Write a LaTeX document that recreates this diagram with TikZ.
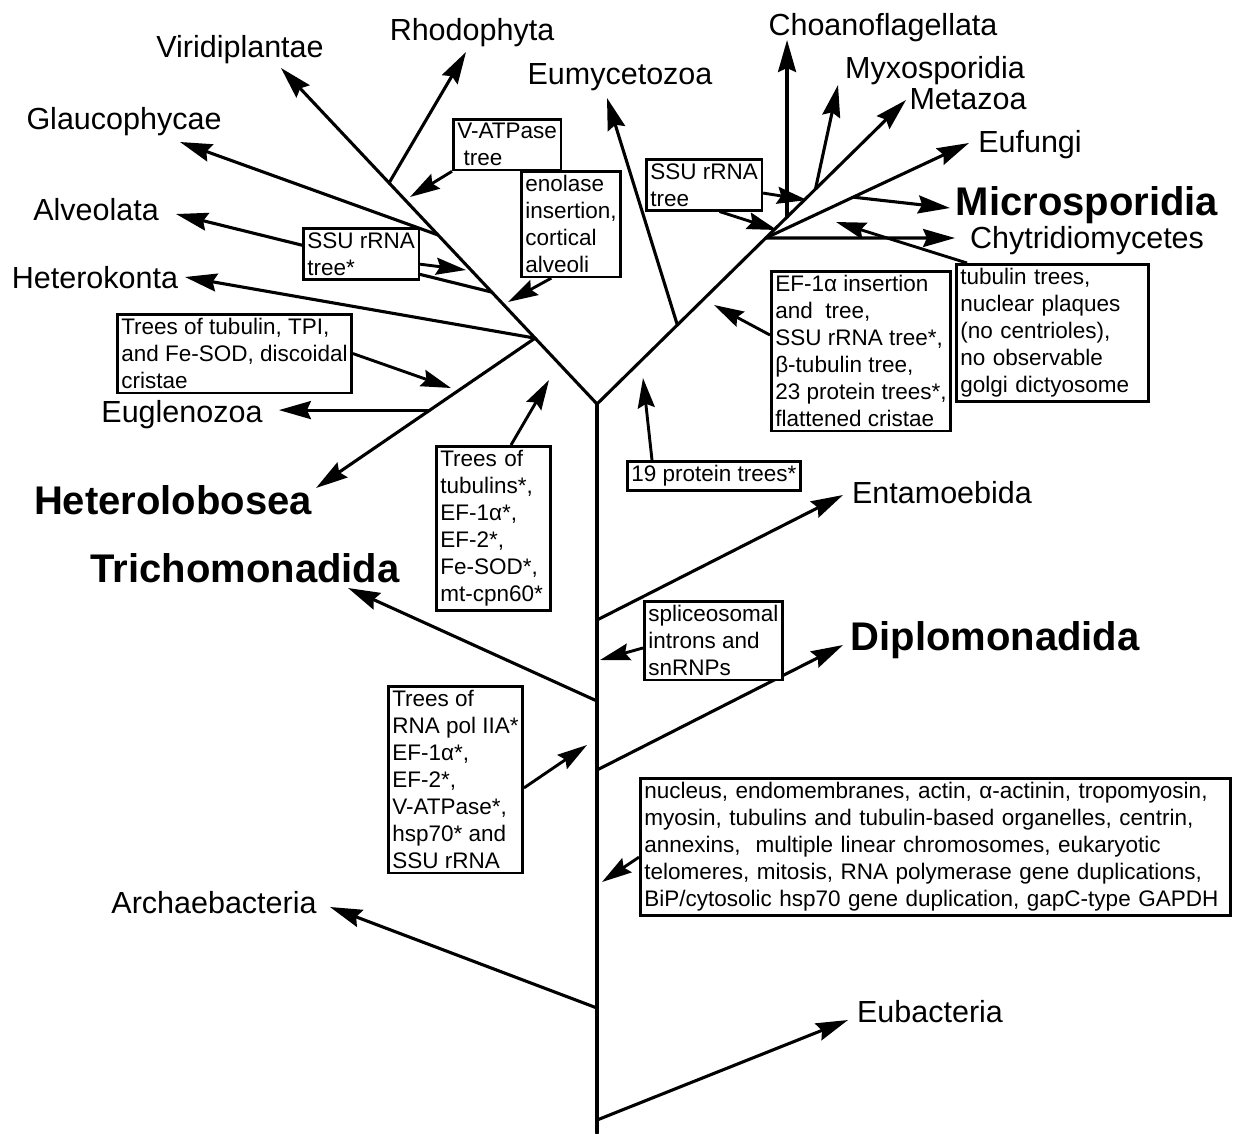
\documentclass[tikz,border=0pt]{standalone}
\usepackage{fontspec}
\setmainfont{Liberation Sans}
\usetikzlibrary{arrows.meta,calc}

\begin{document}
\begin{tikzpicture}[x=1pt, y=-1pt,
	branch/.style={line width=3.1pt, line cap=round},
	leaf/.style={branch, -{Stealth[length=32pt, width=18pt, inset=4pt]}},
	pointer/.style={line width=2.9pt, -{Stealth[length=30pt, width=17pt, inset=4pt]}},
	taxon/.style={font=\fontsize{30.5}{32}\selectfont, inner sep=0pt},
	major/.style={font=\fontsize{40}{42}\selectfont\bfseries, inner sep=0pt},
	evidence/.style={draw, fill=white, line width=2.6pt, align=left, anchor=north west,
		font=\fontsize{22.5}{27}\selectfont, inner xsep=4pt, inner ysep=4pt}]
		\useasboundingbox (0,0) rectangle (1233,1133);
		%----------------------------------------------------
		% Trunk, fork and the points where lineages leave it
		%----------------------------------------------------
		\coordinate (root) at (597,1133);
		\coordinate (fork) at (597,404);
		\coordinate (entN) at (597,620);
		\coordinate (triN) at (597,701);
		\coordinate (dipN) at (597,770);
		\coordinate (arcN) at (597,1008);
		\coordinate (eubN) at (597,1120);

		%----------------------------------------------------
		% Arrow tips of the lineages
		%----------------------------------------------------
		\coordinate (virT) at (281,68);
		\coordinate (rhoT) at (466,52);
		\coordinate (glaT) at (180,142);
		\coordinate (alvT) at (176,214);
		\coordinate (hetT) at (185,277);
		\coordinate (hlbT) at (316,488);
		\coordinate (triT) at (348,588);
		\coordinate (arcT) at (330,907);
		\coordinate (eumT) at (607,98);
		\coordinate (myxT) at (838,85);
		\coordinate (metT) at (906,100);
		\coordinate (eufT) at (969,143);
		\coordinate (micT) at (950,208);
		\coordinate (chyT) at (955,238);
		\coordinate (entT) at (843,495);
		\coordinate (dipT) at (843,645);
		\coordinate (eubT) at (848,1020);

		%----------------------------------------------------
		% Nodes on the two crown branches
		%----------------------------------------------------
		\coordinate (hetN) at ($(fork)!0.196!(virT)$);
		\coordinate (alvN) at ($(fork)!0.333!(virT)$);
		\coordinate (glaN) at ($(fork)!0.503!(virT)$);
		\coordinate (rhoN) at ($(fork)!0.658!(virT)$);
		\coordinate (eugN) at ($(hetN)!0.48!(hlbT)$);
		\coordinate (eugT) at ($(eugN)+(-151,0)$);
		\coordinate (eumN) at ($(fork)!0.26!(metT)$);
		\coordinate (chyN) at ($(fork)!0.546!(metT)$);
		\coordinate (choN) at ($(fork)!0.615!(metT)$);
		\coordinate (myxN) at ($(fork)!0.707!(metT)$);
		\coordinate (choT) at (choN |- 0,40);
		\coordinate (micN) at ($(chyN)!0.43!(eufT)$);

		%----------------------------------------------------
		% Lineage names
		%----------------------------------------------------
		\node[taxon] (vir) at (240,50) {Viridiplantae};
		\node[taxon] (rho) at (472,33) {Rhodophyta};
		\node[taxon] (gla) at (124,122) {Glaucophycae};
		\node[taxon] (alv) at (96,210) {Alveolata};
		\node[taxon] (het) at (95,278) {Heterokonta};
		\node[taxon] (eug) at (182,415) {Euglenozoa};
		\node[major] (hlb) at (173,500) {Heterolobosea};
		\node[major] (tri) at (245,568) {Trichomonadida};
		\node[taxon] (arc) at (214,903) {Archaebacteria};
		\node[taxon] (eum) at (620,77) {Eumycetozoa};
		\node[taxon] (cho) at (883,28) {Choanoflagellata};
		\node[taxon] (myx) at (935,71) {Myxosporidia};
		\node[taxon] (met) at (968,99) {Metazoa};
		\node[taxon] (euf) at (1030,145) {Eufungi};
		\node[major] (mic) at (1087,205) {Microsporidia};
		\node[taxon] (chy) at (1087,241) {Chytridiomycetes};
		\node[taxon] (ent) at (942,493) {Entamoebida};
		\node[major] (dip) at (995,640) {Diplomonadida};
		\node[taxon] (eub) at (930,1012) {Eubacteria};

		%----------------------------------------------------
		% Branches
		%----------------------------------------------------
		\draw[branch] (root) -- (fork);
		\draw[leaf] (fork) -- (virT);
		\draw[leaf] (fork) -- (metT);
		\draw[leaf] (rhoN) -- (rhoT);
		\draw[leaf] (glaN) -- (glaT);
		\draw[leaf] (alvN) -- (alvT);
		\draw[leaf] (hetN) -- (hetT);
		\draw[leaf] (hetN) -- (hlbT);
		\draw[leaf] (eugN) -- (eugT);
		\draw[leaf] (eumN) -- (eumT);
		\draw[leaf] (choN) -- (choT);
		\draw[leaf] (myxN) -- (myxT);
		\draw[leaf] (chyN) -- (eufT);
		\draw[leaf] (micN) -- (micT);
		\draw[leaf] (chyN) -- (chyT);
		\draw[leaf] (entN) -- (entT);
		\draw[leaf] (triN) -- (triT);
		\draw[leaf] (dipN) -- (dipT);
		\draw[leaf] (arcN) -- (arcT);
		\draw[leaf] (eubN) -- (eubT);

		%----------------------------------------------------
		% Evidence boxes and what they point at
		%----------------------------------------------------
		\coordinate (vatT) at (410,197);
		\coordinate (enoT) at (508,302);
		\coordinate (ssuLT) at (466,270);
		\coordinate (tpiT) at (451,388);
		\coordinate (tubT) at (549,380);
		\coordinate (p19T) at (643,378);
		\coordinate (ssuRT) at (807,200);
		\coordinate (ssuRB) at (777,230);
		\coordinate (efT) at (714,305);
		\coordinate (plaqT) at (836,222);
		\coordinate (splT) at (600,660);
		\coordinate (rnaT) at (587,745);
		\coordinate (nucT) at (602,882);

		\node[evidence] (vat) at (452,118) {V-ATPase\\ \ tree};
		\node[evidence] (eno) at (520,170) {enolase\\insertion,\\cortical\\alveoli};
		\node[evidence] (ssuL) at (302,227) {SSU rRNA\\tree*};
		\node[evidence] (tpi) at (116,313) {Trees of tubulin, TPI,\\and Fe-SOD, discoidal\\cristae};
		\node[evidence, text width=106pt] (tub) at (435,445) {Trees of\\tubulins*,\\EF-1α*,\\EF-2*,\\Fe-SOD*,\\mt-cpn60*};
		\node[evidence] (p19) at (626,460) {19 protein trees*};
		\node[evidence] (ssuR) at (645,158) {SSU rRNA\\tree};
		\node[evidence] (ef) at (770,270) {EF-1α insertion\\and\ \ tree,\\SSU rRNA tree*,\\β-tubulin tree,\\23 protein trees*,\\flattened cristae};
		\node[evidence, text width=184pt] (plaq) at (955,263) {tubulin trees,\\nuclear plaques\\(no centrioles),\\no observable\\golgi dictyosome};
		\node[evidence] (spl) at (643,600) {spliceosomal\\introns and\\snRNPs};
		\node[evidence] (rna) at (387,685) {Trees of\\RNA pol IIA*\\EF-1α*,\\EF-2*,\\V-ATPase*,\\hsp70* and\\SSU rRNA};
		\node[evidence, text width=582pt] (nuc) at (639,777) {nucleus, endomembranes, actin, α-actinin, tropomyosin,\\myosin, tubulins and tubulin-based organelles, centrin,\\annexins,\ \ multiple linear chromosomes, eukaryotic\\telomeres, mitosis, RNA polymerase gene duplications,\\BiP/cytosolic hsp70 gene duplication, gapC-type GAPDH};

		\draw[pointer] (vat.south west) -- (vatT);
		\draw[pointer] (eno.250) -- (enoT);
		\draw[pointer] (ssuL.-10) -- (ssuLT);
		\draw[pointer] (tpi.east) -- (tpiT);
		\draw[pointer] (tub.78) -- (tubT);
		\draw[pointer] ([xshift=26pt]p19.north west) -- (p19T);
		\draw[pointer] (ssuR.-8) -- (ssuRT);
		\draw[pointer] (ssuR.-60) -- (ssuRB);
		\draw[pointer] (ef.170) -- (efT);
		\draw[pointer] ([xshift=12pt]plaq.north west) -- (plaqT);
		\draw[pointer] (spl.186) -- (splT);
		\draw[pointer] (rna.-7) -- (rnaT);
		\draw[pointer] (nuc.182) -- (nucT);
\end{tikzpicture}
\end{document}
